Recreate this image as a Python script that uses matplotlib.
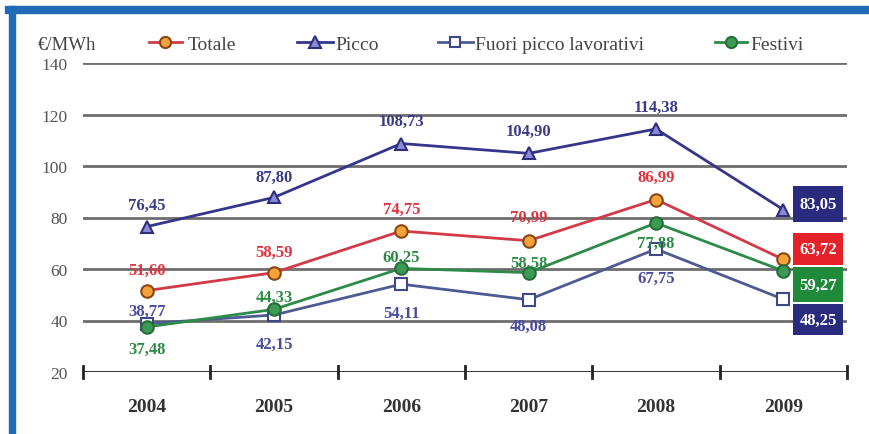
import matplotlib.pyplot as plt
from matplotlib.patches import Rectangle
from matplotlib.lines import Line2D
from matplotlib.transforms import ScaledTranslation

# Prezzi medi annui (€/MWh)
years = ["2004", "2005", "2006", "2007", "2008", "2009"]
totale = [51.60, 58.59, 74.75, 70.99, 86.99, 63.72]
picco = [76.45, 87.80, 108.73, 104.90, 114.38, 83.05]
fuori_picco = [38.77, 42.15, 54.11, 48.08, 67.75, 48.25]
festivi = [37.48, 44.33, 60.25, 58.58, 77.88, 59.27]
y_ticks = [20, 40, 60, 80, 100, 120, 140]

plt.rcParams['font.family'] = ['Liberation Serif', 'DejaVu Serif']


def fmt(v):
    return f"{v:.2f}".replace(".", ",")


W, H = 870, 435
fig = plt.figure(figsize=(8.7, 4.35), dpi=100)
ax = fig.add_axes([83 / W, 1 - 373 / H, 764 / W, 309 / H])

# cornice blu in alto e a sinistra
fig.patches.append(Rectangle((5 / W, 1 - 13.5 / H), 1.0, 6.5 / H,
                             transform=fig.transFigure, color='#1f6bb8', zorder=0))
fig.patches.append(Rectangle((9 / W, 0.0), 6 / W, 1 - 7 / H,
                             transform=fig.transFigure, color='#1f6bb8', zorder=0))

x = list(range(len(years)))

series = [
    # nome, valori, linea, marker, fill, bordo, testo, offset etichette (pt), box (in: y0, y1)
    ("Totale", totale, '#d23a48', 'o', '#f4a23a', '#8a4612', '#e0333f',
     [15, 15, 16, 17, 16], '#e52229', (-0.055, 0.265)),
    ("Picco", picco, '#35358a', '^', '#8a8ad8', '#2e2e7c', '#3a3a88',
     [16, 15, 16, 16, 16], '#2a2a7e', (-0.12, 0.24)),
    ("Fuori picco lavorativi", fuori_picco, '#4e5a92', 's', 'white', '#3c4888', '#4a4aa0',
     [9, -21, -21, -19, -21], '#2a2a7e', (-0.36, -0.05)),
    ("Festivi", festivi, '#2e8a48', 'o', '#3d9a55', '#256e3a', '#2d8a45',
     [-16, 9, 8, 7, -14], '#1f8a3a', (-0.31, 0.04)),
]

legend_pos = {"Totale": (149, 182, 188), "Picco": (297, 333, 335),
              "Fuori picco lavorativi": (438, 473, 475), "Festivi": (715, 747, 750)}

for name, vals, lc, mk, mfc, mec, tc, offs, boxc, (b0, b1) in series:
    ms = 9 if mk != 's' else 8
    style = dict(color=lc, lw=2, marker=mk, ms=ms, markerfacecolor=mfc,
                 markeredgecolor=mec, markeredgewidth=1.5)
    ax.plot(x, vals, zorder=4, **style)

    for xi, v, off in zip(x[:-1], vals[:-1], offs):
        ax.annotate(fmt(v), (xi, v), xytext=(0, off), textcoords='offset points',
                    ha='center', va='center', fontsize=12, fontweight='bold',
                    color=tc, zorder=5)

    # ultimo valore in un riquadro colorato
    last = vals[-1]
    tr = fig.dpi_scale_trans + ScaledTranslation(x[-1], last, ax.transData)
    ax.add_patch(Rectangle((0.10, b0), 0.50, b1 - b0, transform=tr, fc=boxc,
                           ec='none', zorder=6, clip_on=False))
    ax.text(0.35, (b0 + b1) / 2, fmt(last), transform=tr, ha='center', va='center',
            fontsize=12, fontweight='bold', color='white', zorder=7)

    # voce di legenda
    h0, h1, tx = legend_pos[name]
    yl = 1 - 43 / H
    fig.add_artist(Line2D([h0 / W, h1 / W], [yl, yl], transform=fig.transFigure,
                          color=lc, lw=2))
    fig.add_artist(Line2D([(h0 + h1) / 2 / W], [yl], transform=fig.transFigure,
                          marker=mk, ms=ms - 1, markerfacecolor=mfc,
                          markeredgecolor=mec, markeredgewidth=1.5, lw=0))
    fig.text(tx / W, yl, name, fontsize=14, color='#444444', va='center_baseline')

# griglia orizzontale e asse x
for t in y_ticks[1:]:
    ax.axhline(t, color='#6e6e6e', lw=2, zorder=1)
ax.axhline(20, color='#222222', lw=2, zorder=2)
for b in [i - 0.5 for i in range(len(years) + 1)]:
    ax.plot([b, b], [17.5, 22.5], color='#222222', lw=2, clip_on=False, zorder=2)

ax.set_xlim(-0.5, len(years) - 0.5)
ax.set_ylim(20, 140)
ax.set_yticks(y_ticks)
ax.set_yticklabels([str(t) for t in y_ticks], fontsize=12.5, color='#555555')
ax.set_xticks(x)
ax.set_xticklabels(years, fontsize=14, fontweight='bold', color='#333333')
ax.tick_params(axis='both', length=0)
ax.tick_params(axis='x', pad=19)
ax.tick_params(axis='y', pad=11)
for s in ax.spines.values():
    s.set_visible(False)

fig.text(38 / W, 1 - 43 / H, "€/MWh", fontsize=13.5, color='#444444',
         va='center_baseline')

fig.savefig("out.png", dpi=100)
